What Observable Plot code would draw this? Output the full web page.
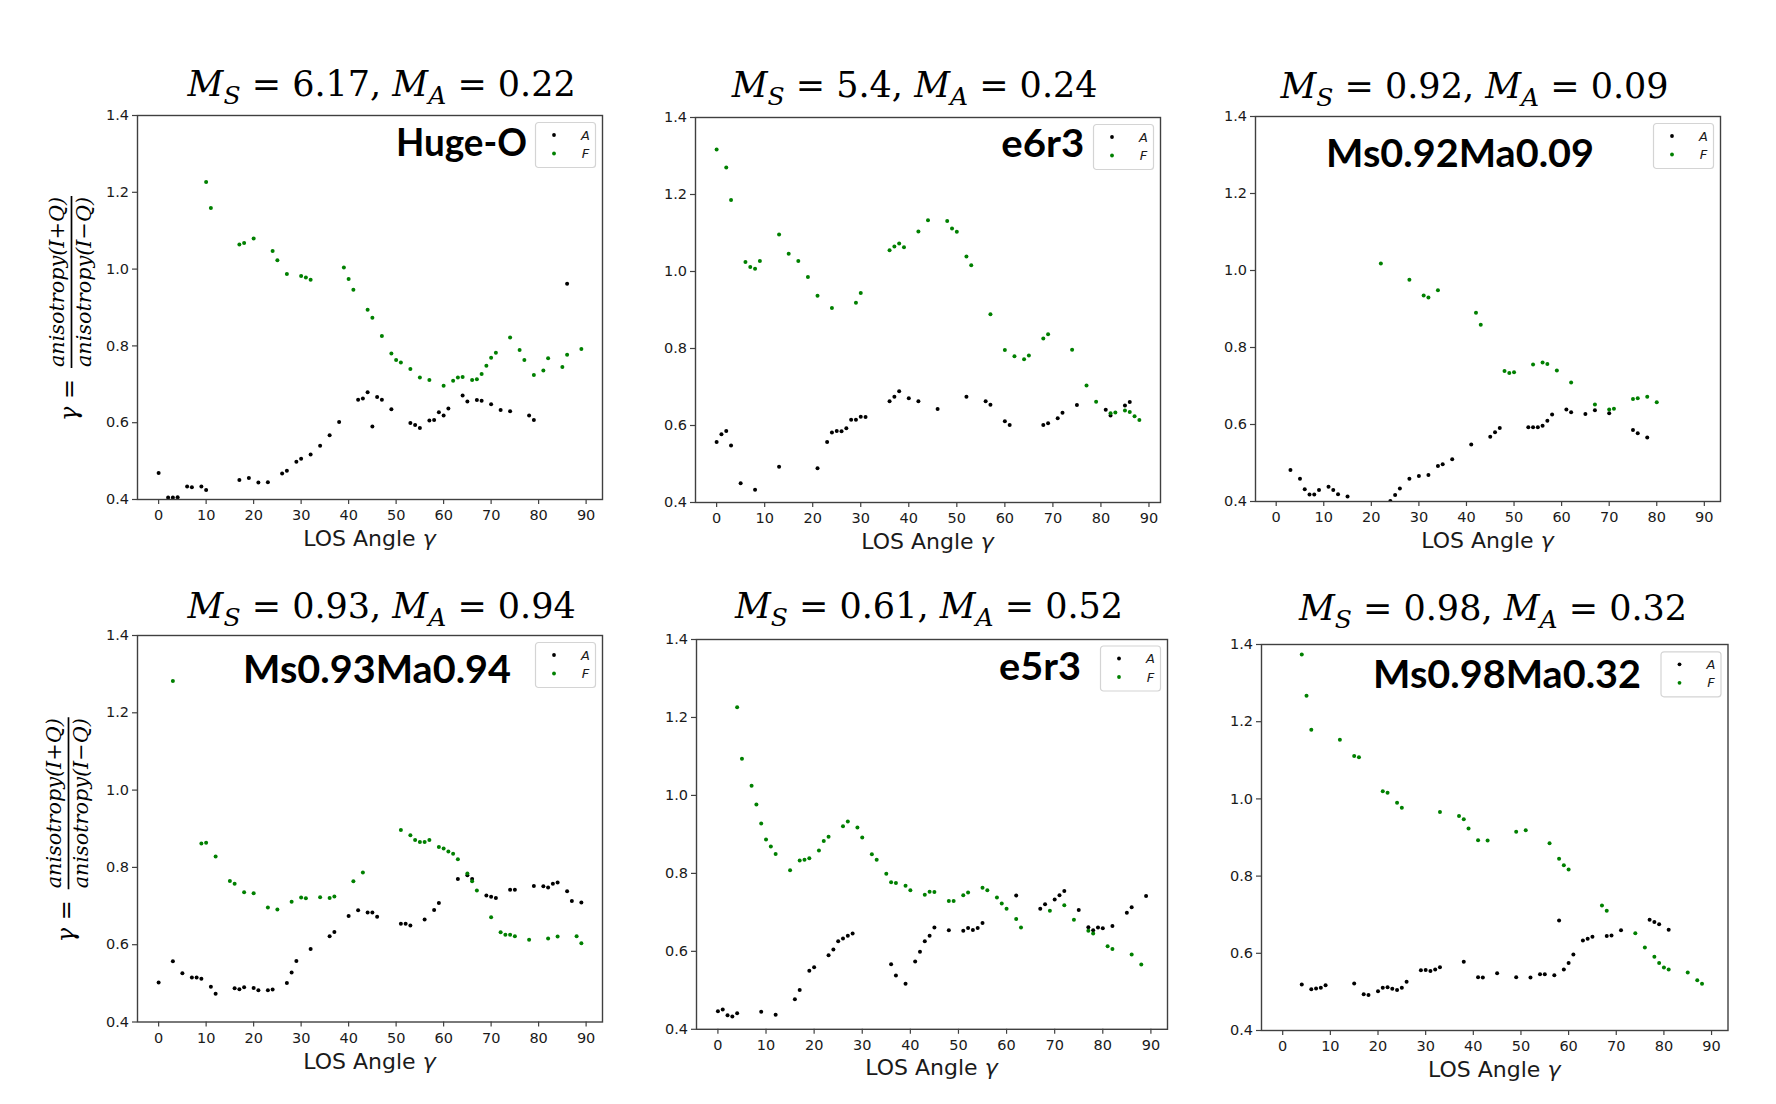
<!DOCTYPE html>
<html>
<head>
<meta charset="utf-8">
<script src="https://cdn.jsdelivr.net/npm/d3@7"></script>
<script src="https://cdn.jsdelivr.net/npm/@observablehq/plot@0.6"></script>
<style>
  html, body { margin: 0; padding: 0; background: #fff; }
  #page { position: relative; width: 1776px; height: 1104px; overflow: hidden; background: #fff; }
  .panel { position: absolute; }
</style>
</head>
<body>
<div id="page"></div>
<script>
// ---------------- DATA ----------------
const machS = ["6.17", "5.4", "0.92", "0.93", "0.61", "0.98"];
const machA = ["0.22", "0.24", "0.09", "0.94", "0.52", "0.32"];
const runNames = ["Huge-O", "e6r3", "Ms0.92Ma0.09", "Ms0.93Ma0.94", "e5r3", "Ms0.98Ma0.32"];
const seriesNames = ["A", "F"];
const xTicks = [0, 10, 20, 30, 40, 50, 60, 70, 80, 90];
const yTicks = [0.4, 0.6, 0.8, 1.0, 1.2, 1.4];
const xLabel = "LOS Angle ";
const yLabelNum = "anisotropy(I+Q)";
const yLabelDen = "anisotropy(I\u2212Q)";

const hugeO_A = [[0,0.469],[2,0.405],[3,0.405],[4,0.406],[6,0.434],[7,0.432],[9,0.434],[10,0.425],[17,0.451],[19,0.456],[21,0.444],[23,0.445],[26,0.468],[27,0.475],[29,0.498],[30,0.506],[32,0.517],[34,0.540],[36,0.567],[38,0.602],[42,0.660],[43,0.663],[44,0.679],[45,0.590],[46,0.667],[47,0.660],[49,0.635],[53,0.599],[54,0.594],[55,0.586],[57,0.606],[58,0.607],[59,0.627],[60,0.619],[61,0.637],[64,0.671],[65,0.655],[67,0.659],[68,0.657],[70,0.648],[72,0.633],[74,0.630],[78,0.619],[79,0.607],[86,0.962]];
const hugeO_F = [[10,1.227],[11,1.159],[17,1.064],[18,1.068],[20,1.080],[24,1.047],[25,1.023],[27,0.987],[30,0.982],[31,0.978],[32,0.972],[39,1.004],[40,0.974],[41,0.946],[44,0.894],[45,0.873],[47,0.826],[49,0.780],[50,0.763],[51,0.757],[53,0.740],[55,0.718],[56,0.396],[57,0.711],[60,0.696],[62,0.709],[63,0.718],[64,0.719],[66,0.711],[67,0.713],[68,0.727],[69,0.748],[70,0.769],[71,0.782],[74,0.822],[76,0.789],[77,0.763],[79,0.724],[81,0.736],[82,0.768],[85,0.745],[86,0.777],[89,0.792]];

const e6r3_A = [[0,0.557],[1,0.577],[2,0.586],[3,0.548],[5,0.450],[8,0.433],[13,0.493],[21,0.489],[23,0.557],[24,0.582],[25,0.586],[26,0.585],[27,0.593],[28,0.615],[29,0.615],[30,0.623],[31,0.622],[36,0.663],[37,0.675],[38,0.689],[40,0.671],[42,0.663],[46,0.643],[52,0.675],[56,0.663],[57,0.654],[60,0.611],[61,0.601],[68,0.601],[69,0.606],[71,0.619],[72,0.633],[75,0.653],[81,0.641],[82,0.626],[85,0.652],[86,0.661]];
const e6r3_F = [[0,1.317],[2,1.270],[3,1.186],[6,1.025],[7,1.012],[8,1.007],[9,1.027],[13,1.096],[15,1.046],[17,1.027],[19,0.986],[21,0.937],[24,0.905],[29,0.919],[30,0.944],[36,1.055],[37,1.065],[38,1.073],[39,1.063],[42,1.104],[44,1.133],[48,1.131],[49,1.112],[50,1.103],[52,1.039],[53,1.016],[57,0.889],[60,0.796],[62,0.780],[64,0.772],[65,0.782],[68,0.826],[69,0.837],[74,0.797],[77,0.704],[79,0.662],[82,0.632],[83,0.634],[85,0.639],[86,0.635],[87,0.624],[88,0.614]];

const ms092_A = [[3,0.482],[5,0.459],[6,0.432],[7,0.418],[8,0.418],[9,0.430],[11,0.438],[12,0.430],[13,0.419],[15,0.413],[24,0.401],[25,0.417],[26,0.434],[28,0.459],[30,0.466],[32,0.469],[34,0.492],[35,0.497],[37,0.510],[41,0.548],[45,0.568],[46,0.580],[47,0.591],[53,0.593],[54,0.593],[55,0.593],[56,0.597],[57,0.610],[58,0.626],[61,0.639],[62,0.632],[65,0.627],[67,0.637],[70,0.629],[75,0.586],[76,0.577],[78,0.566]];
const ms092_F = [[22,1.018],[28,0.976],[31,0.935],[32,0.930],[34,0.949],[42,0.890],[43,0.859],[48,0.739],[49,0.734],[50,0.736],[54,0.756],[56,0.761],[57,0.757],[59,0.740],[62,0.709],[67,0.652],[70,0.639],[71,0.641],[75,0.666],[76,0.668],[78,0.672],[80,0.658]];

const ms093_A = [[0,0.502],[3,0.557],[5,0.526],[7,0.515],[8,0.515],[9,0.512],[11,0.491],[12,0.473],[16,0.487],[17,0.485],[18,0.490],[20,0.488],[21,0.482],[23,0.482],[24,0.484],[27,0.501],[28,0.528],[29,0.558],[32,0.589],[36,0.622],[37,0.633],[40,0.674],[42,0.689],[44,0.683],[45,0.683],[46,0.672],[51,0.654],[52,0.654],[53,0.650],[56,0.665],[58,0.690],[59,0.708],[63,0.770],[65,0.780],[66,0.770],[69,0.727],[70,0.724],[71,0.721],[74,0.742],[75,0.742],[79,0.752],[81,0.751],[82,0.748],[83,0.758],[84,0.761],[86,0.738],[87,0.713],[89,0.709]];
const ms093_F = [[3,1.282],[9,0.862],[10,0.864],[12,0.828],[15,0.765],[16,0.758],[18,0.736],[20,0.733],[23,0.696],[25,0.691],[28,0.711],[30,0.722],[31,0.720],[34,0.723],[36,0.721],[37,0.725],[41,0.764],[43,0.787],[51,0.897],[53,0.883],[54,0.871],[55,0.866],[56,0.866],[57,0.871],[59,0.853],[60,0.849],[61,0.841],[62,0.835],[63,0.821],[65,0.784],[66,0.764],[67,0.740],[70,0.671],[72,0.632],[73,0.626],[74,0.626],[75,0.622],[78,0.613],[82,0.616],[84,0.621],[88,0.622],[89,0.604]];

const e5r3_A = [[0,0.446],[1,0.451],[2,0.436],[3,0.433],[4,0.441],[9,0.445],[12,0.437],[16,0.477],[17,0.501],[19,0.550],[20,0.559],[23,0.590],[24,0.605],[25,0.626],[26,0.633],[27,0.640],[28,0.646],[36,0.567],[37,0.538],[39,0.517],[41,0.574],[42,0.599],[43,0.626],[44,0.640],[45,0.661],[48,0.654],[51,0.653],[52,0.660],[53,0.655],[54,0.660],[55,0.673],[62,0.743],[67,0.709],[68,0.721],[70,0.733],[71,0.744],[72,0.755],[75,0.706],[77,0.662],[78,0.654],[79,0.661],[80,0.659],[82,0.665],[85,0.699],[86,0.713],[89,0.742]];
const e5r3_F = [[4,1.226],[5,1.094],[7,1.025],[8,0.977],[9,0.928],[10,0.887],[11,0.869],[12,0.850],[15,0.808],[17,0.833],[18,0.835],[19,0.839],[21,0.859],[22,0.883],[23,0.894],[26,0.921],[27,0.933],[29,0.918],[30,0.892],[32,0.849],[33,0.835],[35,0.799],[36,0.777],[37,0.775],[39,0.768],[40,0.757],[43,0.745],[44,0.753],[45,0.752],[48,0.729],[49,0.729],[51,0.744],[52,0.751],[55,0.763],[56,0.757],[58,0.738],[59,0.723],[60,0.709],[62,0.683],[63,0.661],[69,0.704],[72,0.718],[74,0.681],[77,0.653],[78,0.646],[81,0.613],[82,0.606],[86,0.592],[88,0.566]];

const ms098_A = [[4,0.519],[6,0.507],[7,0.509],[8,0.511],[9,0.517],[15,0.522],[17,0.494],[18,0.492],[20,0.502],[21,0.511],[22,0.512],[23,0.508],[24,0.505],[25,0.511],[26,0.526],[29,0.556],[30,0.557],[31,0.554],[32,0.558],[33,0.564],[38,0.578],[41,0.538],[42,0.537],[45,0.548],[49,0.538],[52,0.537],[54,0.546],[55,0.546],[57,0.543],[58,0.685],[59,0.558],[60,0.575],[61,0.597],[63,0.633],[64,0.638],[65,0.643],[68,0.645],[69,0.646],[71,0.660],[77,0.687],[78,0.681],[79,0.675],[81,0.661]];
const ms098_F = [[4,1.374],[5,1.267],[6,1.179],[12,1.153],[15,1.111],[16,1.108],[21,1.020],[22,1.016],[24,0.990],[25,0.977],[33,0.966],[37,0.956],[38,0.947],[39,0.923],[41,0.893],[43,0.892],[49,0.915],[51,0.919],[56,0.885],[58,0.845],[59,0.828],[60,0.817],[67,0.724],[68,0.710],[74,0.652],[76,0.615],[78,0.591],[79,0.575],[80,0.563],[81,0.558],[85,0.550],[87,0.530],[88,0.521]];

const seriesA = [hugeO_A, e6r3_A, ms092_A, ms093_A, e5r3_A, ms098_A];
const seriesF = [hugeO_F, e6r3_F, ms092_F, ms093_F, e5r3_F, ms098_F];

// ---------------- LAYOUT (page pixels) ----------------
// axes frame [left, top, right, bottom]
const frames = [
  [137, 115, 602, 499],
  [695, 117, 1160, 502],
  [1255, 116, 1720, 501],
  [137, 635, 602, 1021.5],
  [696, 638.5, 1167, 1028.3],
  [1261, 644.3, 1727.5, 1030.3]
];
const xDomains = [[-4.45, 93.45], [-4.4, 92.4], [-4.35, 93.4], [-4.45, 93.45], [-4.45, 93.45], [-4.45, 93.45]];
const titlePos = [[381.7, 96.4], [914.6, 97], [1474.5, 98], [381.7, 617.5], [929, 617.5], [1493, 620]];
const namePos = [[461.5, 156.4, 131], [1042.7, 157.1, 83], [1460, 166.7, 268], [377, 683.2, 268], [1040, 680.3, 82], [1507, 688.2, 268]];
const yLabelPanels = [0, 3];
const yLabelX = [71.5, 68.5];

const mL = 50, mR = 12, mT = 12, mB = 40;
const colors = {A: "#000000", F: "#008000"};
const tickFont = 14.5;

const page = d3.select("#page");

frames.forEach((f, i) => {
  const [L, T, R, B] = f;
  const w = R - L + mL + mR;
  const h = B - T + mT + mB;
  const dataA = seriesA[i].map(([x, y]) => ({x, y, s: "A"}));
  const dataF = seriesF[i].map(([x, y]) => ({x, y, s: "F"}));
  const chart = Plot.plot({
    width: w,
    height: h,
    marginLeft: mL, marginRight: mR, marginTop: mT, marginBottom: mB,
    style: {background: "transparent", fontFamily: "DejaVu Sans", fontSize: tickFont + "px", color: "#1a1a1a", overflow: "visible"},
    x: {domain: xDomains[i], ticks: xTicks, label: null},
    y: {domain: [0.4, 1.4], ticks: yTicks, tickFormat: d3.format(".1f"), label: null},
    marks: [
      Plot.dot(dataA, {x: "x", y: "y", r: 2, fill: colors.A, stroke: "none", clip: true}),
      Plot.dot(dataF, {x: "x", y: "y", r: 2, fill: colors.F, stroke: "none", clip: true}),
      Plot.frame({stroke: "#404040", strokeWidth: 1.4}),
      Plot.axisX({ticks: xTicks, tickSize: 5, tickPadding: 5.5, fontSize: tickFont, stroke: "#404040", strokeWidth: 1.2, label: null}),
      Plot.axisY({ticks: yTicks, tickSize: 5, tickPadding: 3.5, fontSize: tickFont, tickFormat: d3.format(".1f"), stroke: "#404040", strokeWidth: 1.2, label: null})
    ]
  });
  const div = page.append("div").attr("class", "panel")
    .style("left", (L - mL) + "px").style("top", (T - mT) + "px");
  div.node().appendChild(chart);
});

// ---------------- TEXT OVERLAY ----------------
const ov = page.append("svg")
  .attr("width", 1776).attr("height", 1104)
  .style("position", "absolute").style("left", "0px").style("top", "0px")
  .style("pointer-events", "none");

frames.forEach((f, i) => {
  const [L, T, R, B] = f;
  // title
  const [tx, ty] = titlePos[i];
  const t = ov.append("text").attr("x", tx).attr("y", ty)
    .attr("text-anchor", "middle").attr("font-family", "DejaVu Serif")
    .attr("font-size", 35).attr("fill", "#000");
  t.append("tspan").attr("font-style", "italic").text("M");
  t.append("tspan").attr("font-style", "italic").attr("font-size", 25).attr("dy", 8).text("S");
  t.append("tspan").attr("dy", -8).text(" = " + machS[i] + ", ");
  t.append("tspan").attr("font-style", "italic").text("M");
  t.append("tspan").attr("font-style", "italic").attr("font-size", 25).attr("dy", 8).text("A");
  t.append("tspan").attr("dy", -8).text(" = " + machA[i]);

  // run name
  const [nx, ny, nw] = namePos[i];
  ov.append("text").attr("x", nx).attr("y", ny)
    .attr("text-anchor", "middle").attr("font-family", "Lato").attr("font-weight", 700)
    .attr("font-size", 38).attr("fill", "#000")
    .attr("textLength", nw).attr("lengthAdjust", "spacingAndGlyphs")
    .text(runNames[i]);

  // legend
  const lw = 60, lh = 45;
  const lg = ov.append("g").attr("transform", `translate(${R - 6.5 - lw},${T + 7.5})`);
  lg.append("rect").attr("width", lw).attr("height", lh).attr("rx", 3)
    .attr("fill", "#fff").attr("fill-opacity", 0.8).attr("stroke", "#d4d4d4").attr("stroke-width", 1.2);
  seriesNames.forEach((s, k) => {
    const yy = 12.5 + k * 18.5;
    lg.append("circle").attr("cx", 18.5).attr("cy", yy).attr("r", 1.9).attr("fill", colors[s]);
    lg.append("text").attr("x", 50).attr("y", yy + 4.5).attr("text-anchor", "middle")
      .attr("font-family", "DejaVu Sans").attr("font-style", "italic").attr("font-size", 13)
      .attr("fill", "#1a1a1a").text(s);
  });

  // x label
  const xl = ov.append("text").attr("x", (L + R) / 2).attr("y", B + 47)
    .attr("text-anchor", "middle").attr("font-family", "DejaVu Sans")
    .attr("font-size", 22).attr("fill", "#1a1a1a");
  xl.append("tspan").text(xLabel);
  xl.append("tspan").attr("font-style", "italic").text("\u03b3");
});

// y labels (left column)
yLabelPanels.forEach((pi, k) => {
  const [L, T, R, B] = frames[pi];
  const cy = (T + B) / 2;
  const g = ov.append("g").attr("transform", `translate(${yLabelX[k]},${cy - 25}) rotate(-90)`);
  g.append("line").attr("x1", -86).attr("x2", 86).attr("y1", 0).attr("y2", 0)
    .attr("stroke", "#000").attr("stroke-width", 1.7);
  const mk = (txt, y) => {
    const el = g.append("text").attr("x", 0).attr("y", y).attr("text-anchor", "middle")
      .attr("font-family", "DejaVu Serif").attr("font-size", 21).attr("fill", "#000")
      .attr("textLength", 170).attr("lengthAdjust", "spacingAndGlyphs");
    const m = txt.match(/^(anisotropy\(I)(.)(Q\))$/);
    el.append("tspan").attr("font-style", "italic").text(m[1]);
    el.append("tspan").text(m[2]);
    el.append("tspan").attr("font-style", "italic").text(m[3]);
  };
  mk(yLabelNum, -7.5);
  mk(yLabelDen, 19);
  const gq = g.append("text").attr("x", -118).attr("y", 5).attr("text-anchor", "middle")
    .attr("font-family", "DejaVu Serif").attr("font-size", 24).attr("fill", "#000");
  gq.append("tspan").attr("font-style", "italic").text("\u03b3");
  gq.append("tspan").text(" =");
});
</script>
</body>
</html>
